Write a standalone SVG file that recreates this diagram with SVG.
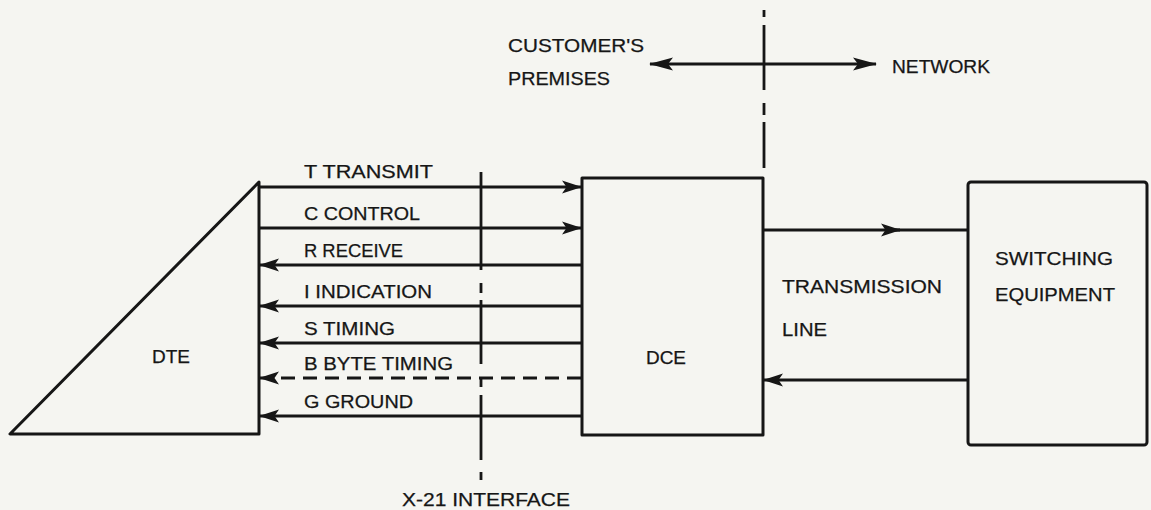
<svg xmlns="http://www.w3.org/2000/svg" width="1151" height="510" viewBox="0 0 1151 510">
<style>
.bg{fill:#f5f5f1}
.box{fill:none;stroke:#161616;stroke-width:3;stroke-linejoin:round}
.ln{fill:none;stroke:#161616;stroke-width:2.8}
.dash{stroke-dasharray:14 8}
.t{font-family:"Liberation Sans",Arial,sans-serif;font-size:18px;fill:#161616;stroke:#161616;stroke-width:0.25}
</style>
<defs>
<marker id="ah" markerUnits="userSpaceOnUse" viewBox="0 0 20 14" refX="19" refY="7" markerWidth="20" markerHeight="14" orient="auto">
<path d="M0,0.5 L20,7 L0,13.5 L4.5,7 z" fill="#161616"/>
</marker>
<marker id="ahL" markerUnits="userSpaceOnUse" viewBox="0 0 24 14" refX="23" refY="7" markerWidth="24" markerHeight="14" orient="auto">
<path d="M0,0.5 L24,7 L0,13.5 L5,7 z" fill="#161616"/>
</marker>
</defs>
<rect class="bg" x="0" y="0" width="1151" height="510"/>

<g id="boundary">
<path class="ln" d="M764,10 V17 M764,25 V90 M764,103 V115 M764,122 V168"/>
<line class="ln" x1="764" y1="64" x2="650" y2="64" marker-end="url(#ahL)"/>
<line class="ln" x1="764" y1="64" x2="876" y2="64" marker-end="url(#ahL)"/>
<text class="t" x="508" y="52" textLength="136" lengthAdjust="spacingAndGlyphs">CUSTOMER'S</text>
<text class="t" x="508" y="85" textLength="102" lengthAdjust="spacingAndGlyphs">PREMISES</text>
<text class="t" x="892" y="73" textLength="98" lengthAdjust="spacingAndGlyphs">NETWORK</text>
</g>

<g id="x21">
<path class="ln" d="M481,172 V270 M481,283 V293 M481,300 V364 M481,377 V387 M481,395 V460 M481,472 V480"/>
<text class="t" x="402" y="506" textLength="168" lengthAdjust="spacingAndGlyphs">X-21 INTERFACE</text>
</g>

<g id="dte">
<polygon class="box" points="10,434 259,434 259,182"/>
<text class="t" x="152" y="363" textLength="38" lengthAdjust="spacingAndGlyphs">DTE</text>
</g>

<g id="dce">
<rect class="box" x="582" y="178" width="181" height="257"/>
<text class="t" x="646" y="364" textLength="40" lengthAdjust="spacingAndGlyphs">DCE</text>
</g>

<g id="switching">
<rect class="box" x="968" y="182" width="179" height="263" rx="3"/>
<text class="t" x="995" y="265" textLength="118" lengthAdjust="spacingAndGlyphs">SWITCHING</text>
<text class="t" x="995" y="301" textLength="120" lengthAdjust="spacingAndGlyphs">EQUIPMENT</text>
</g>

<g id="connectors">
<line class="ln" x1="259" y1="187" x2="581" y2="187" marker-end="url(#ah)"/>
<line class="ln" x1="259" y1="228" x2="581" y2="228" marker-end="url(#ah)"/>
<line class="ln" x1="581" y1="265" x2="260" y2="265" marker-end="url(#ah)"/>
<line class="ln" x1="581" y1="306" x2="260" y2="306" marker-end="url(#ah)"/>
<line class="ln" x1="581" y1="343" x2="260" y2="343" marker-end="url(#ah)"/>
<line class="ln dash" x1="581" y1="378" x2="260" y2="378" marker-end="url(#ah)"/>
<line class="ln" x1="581" y1="416" x2="260" y2="416" marker-end="url(#ah)"/>
<line class="ln" x1="763" y1="230" x2="900" y2="230" marker-end="url(#ah)"/>
<line class="ln" x1="895" y1="230" x2="968" y2="230"/>
<line class="ln" x1="968" y1="380" x2="764" y2="380" marker-end="url(#ah)"/>
</g>

<g id="labels">
<text class="t" x="304" y="178" textLength="129" lengthAdjust="spacingAndGlyphs">T TRANSMIT</text>
<text class="t" x="304" y="220" textLength="116" lengthAdjust="spacingAndGlyphs">C CONTROL</text>
<text class="t" x="304" y="257" textLength="99" lengthAdjust="spacingAndGlyphs">R RECEIVE</text>
<text class="t" x="304" y="298" textLength="128" lengthAdjust="spacingAndGlyphs">I INDICATION</text>
<text class="t" x="304" y="335" textLength="91" lengthAdjust="spacingAndGlyphs">S TIMING</text>
<text class="t" x="304" y="370" textLength="149" lengthAdjust="spacingAndGlyphs">B BYTE TIMING</text>
<text class="t" x="304" y="408" textLength="109" lengthAdjust="spacingAndGlyphs">G GROUND</text>
<text class="t" x="782" y="293" textLength="160" lengthAdjust="spacingAndGlyphs">TRANSMISSION</text>
<text class="t" x="782" y="336" textLength="45" lengthAdjust="spacingAndGlyphs">LINE</text>
</g>
</svg>
